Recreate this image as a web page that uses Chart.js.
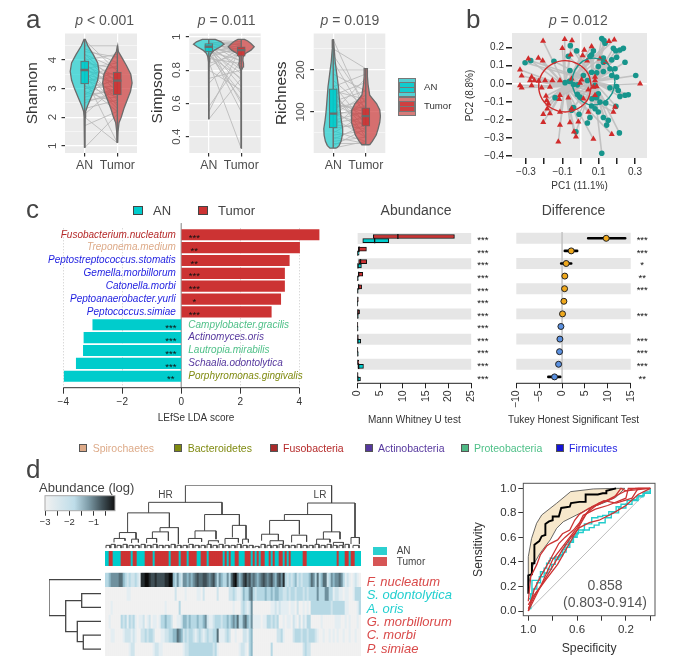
<!DOCTYPE html>
<html>
<head>
<meta charset="utf-8">
<title>Figure</title>
<script src="https://cdn.jsdelivr.net/npm/chart.js@4"></script>
<style>
html, body { margin: 0; background: #fff; }
#page { position: relative; width: 677px; height: 665px; overflow: hidden; font-family: "Liberation Sans", sans-serif; color: #444; filter: blur(0.35px); }
#page canvas { position: absolute; }
#page .t { position: absolute; white-space: nowrap; line-height: 1; }
#page .k { position: absolute; box-sizing: border-box; }
</style>
</head>
<body>
<div id="page"></div>
<script>
// ---- panel a: violins
var shannonAnY = [0.93, 1.5, 2, 2.2, 2.4, 2.7, 3.0, 3.3, 3.6, 3.9, 4.2, 4.5, 4.72];
var shannonAnW = [0.01, 0.01, 0.015, 0.03, 0.09, 0.2, 0.31, 0.4, 0.44, 0.4, 0.26, 0.1, 0.02];
var shannonTuY = [1.1, 1.5, 1.8, 2.0, 2.3, 2.6, 2.9, 3.2, 3.5, 3.8, 4.1, 4.3, 4.5];
var shannonTuW = [0.01, 0.02, 0.05, 0.12, 0.2, 0.3, 0.4, 0.45, 0.41, 0.28, 0.13, 0.03, 0.01];
var shannonBox = [[3.16, 3.65, 3.96], [2.78, 3.28, 3.58]];
var shannonPairAn = [4.7,4.5,4.4,4.3,4.2,4.2,4.1,4.0,4.0,3.9,3.9,3.8,3.8,3.7,3.7,3.6,3.6,3.5,3.5,3.4,3.4,3.3,3.3,3.2,3.1,3.1,3.0,3.0,2.9,2.8,2.8,2.7,2.6,2.5,2.3,2.1,2.0,1.7,0.93,3.4];
var shannonPairTu = [3.6,4.5,3.9,4.1,3.2,3.7,3.0,4.2,3.4,2.9,3.7,3.3,2.6,3.9,3.1,2.4,3.5,3.2,2.8,3.8,2.3,3.4,2.9,3.6,2.7,2.2,3.3,3.1,2.5,3.4,2.9,3.0,2.7,2.9,2.6,3.1,1.1,2.2,2.1,1.1];

var simpsonAnY = [0.505, 0.75, 0.85, 0.88, 0.9, 0.92, 0.94, 0.955, 0.97, 0.985];
var simpsonAnW = [0.005, 0.005, 0.01, 0.03, 0.07, 0.18, 0.36, 0.47, 0.38, 0.2];
var simpsonTuY = [0.33, 0.7, 0.8, 0.82, 0.84, 0.86, 0.88, 0.9, 0.92, 0.94, 0.96, 0.975, 0.985];
var simpsonTuW = [0.004, 0.005, 0.01, 0.06, 0.07, 0.05, 0.06, 0.13, 0.3, 0.4, 0.3, 0.2, 0.1];
var simpsonBox = [[0.91, 0.94, 0.96], [0.884, 0.92, 0.94]];
var simpsonPairAn = [.98,.97,.97,.96,.96,.96,.95,.95,.95,.94,.94,.94,.93,.93,.93,.92,.92,.91,.91,.90,.90,.89,.88,.87,.85,.84,.82,.80,.75,.72,.58,.55,.505,.95,.90,.93,.97];
var simpsonPairTu = [.97,.95,.90,.97,.92,.85,.96,.88,.80,.94,.82,.74,.96,.90,.70,.93,.78,.95,.86,.92,.66,.75,.94,.84,.33,.90,.93,.68,.80,.92,.86,.94,.75,.60,.62,.55,.95];

var richnessAnY = [14, 20, 30, 45, 60, 80, 100, 130, 160, 190, 220, 250, 272];
var richnessAnW = [0.1, 0.18, 0.24, 0.28, 0.29, 0.25, 0.22, 0.19, 0.16, 0.11, 0.06, 0.03, 0.01];
var richnessTuY = [22, 30, 45, 60, 75, 90, 105, 120, 140, 165, 185, 203];
var richnessTuW = [0.12, 0.2, 0.32, 0.38, 0.43, 0.45, 0.43, 0.33, 0.12, 0.07, 0.05, 0.05];
var richnessBox = [[62, 96, 155], [66, 90, 110]];
var richnessPairAn = [272,250,235,220,200,190,175,165,160,150,145,140,130,125,120,115,110,105,100,95,95,90,85,80,75,70,65,60,55,50,45,40,35,30,25,20,14,150,120,100];
var richnessPairTu = [100,203,120,90,200,150,110,70,190,130,60,170,90,150,80,110,125,50,95,140,70,115,40,100,85,60,130,75,30,95,55,25,70,40,25,60,30,40,100,180];

// ---- panel b: PCoA
var pcAnX = [.117,.129,.135,-.056,.181,.194,.217,.236,-.021,.071,.061,-.067,.052,.126,.172,.199,.245,-.146,-.305,-.274,.126,.098,.162,-.058,.19,.061,.089,.126,.016,.172,.199,.304,.038,-.061,-.085,-.039,-.017,.08,.162,.199,.208,.098,.08,.245,.263,.217,-.017,-.003,.063,.089,-.14,.107,.139,.195,.061,.08,.098,-.039,-.049,-.008,.052,.126,.153,.144,.038,-.025,.214,.117];
var pcAnY = [.25,.239,.224,.211,.196,.183,.187,.196,.182,.182,.16,.152,.152,.143,.132,.147,.119,.125,.116,.128,.119,.095,.083,.073,.083,.064,.061,.068,.046,.046,.037,.046,.018,.013,.006,-.004,-.006,-.009,-.022,-.015,-.037,-.055,-.073,-.064,-.061,-.07,-.059,-.073,-.083,-.077,-.077,-.101,-.106,-.125,-.123,-.138,-.156,-.132,-.147,-.169,-.187,-.187,-.202,-.229,-.217,-.266,-.272,-.385];
var pcTuX = [-.206,-.087,-.047,.186,.157,-.1,.061,.021,-.054,.012,.036,-.287,-.232,-.208,.107,.14,-.333,-.324,-.269,-.278,-.254,-.23,-.269,-.333,-.324,-.195,-.155,-.113,-.049,.006,.08,.08,.328,.089,-.214,-.168,-.003,-.113,-.19,-.186,-.177,-.117,-.067,.016,-.183,-.168,-.205,-.113,-.049,.043,.19,.181,-.205,-.113,-.058,-.012,-.036,-.025,-.122,.071,.172,.071,.043,.08];
var pcTuY = [.237,.246,.239,.244,.235,.196,.206,.187,.16,.156,.128,.138,.143,.128,.138,.119,.077,.044,.037,.018,.018,.015,-.009,-.009,-.022,.018,.018,.018,.028,.022,.037,.018,0,-.015,-.022,-.018,.004,-.064,-.068,-.092,-.11,-.086,-.077,-.083,-.138,-.165,-.169,-.156,-.138,-.156,-.128,-.156,-.213,-.229,-.215,-.211,-.266,-.294,-.321,-.306,-.279,-.018,-.033,-.064];
var centroidAn = [.072, .012];
var centroidTu = [-.085, -.014];
var ringAnX = [.19,.174,.131,.072,.013,-.03,-.046,-.03,.013,.072,.131,.174,.19];
var ringAnY = [.012,.077,.125,.142,.125,.077,.012,-.053,-.101,-.118,-.101,-.053,.012];
var ringTuX = [.06,.041,-.013,-.085,-.157,-.211,-.23,-.211,-.157,-.085,-.013,.041,.06];
var ringTuY = [-.014,.057,.109,.128,.109,.057,-.014,-.085,-.137,-.156,-.137,-.085,-.014];

// ---- panel c
var speciesNames = ['Fusobacterium.nucleatum','Treponema.medium','Peptostreptococcus.stomatis','Gemella.morbillorum','Catonella.morbi','Peptoanaerobacter.yurli','Peptococcus.simiae','Campylobacter.gracilis','Actinomyces.oris','Lautropia.mirabilis','Schaalia.odontolytica','Porphyromonas.gingivalis'];
var speciesPhylum = ['Fusobacteria','Spirochaetes','Firmicutes','Firmicutes','Firmicutes','Firmicutes','Firmicutes','Proteobacteria','Actinobacteria','Proteobacteria','Actinobacteria','Bacteroidetes'];
var ldaScores = [4.67, 4.01, 3.66, 3.5, 3.5, 3.37, 3.05, -3.0, -3.3, -3.32, -3.56, -3.97];
var ldaStars = ['***','**','**','***','***','*','***','***','***','***','***','**'];
var abundTuLo = [3.5,.2,.3,.2,.2,0,.05,0,0,0,0,0];
var abundTuMed = [8.9,.4,.7,.3,.3,.05,.1,.02,.05,.02,.05,.03];
var abundTuHi = [21.3,2.0,2.05,1.2,.95,.2,.5,.1,.2,.1,.3,.15];
var abundAnLo = [1.2,0,0,0,0,0,0,0,.05,0,.1,.05];
var abundAnMed = [3.8,.05,.1,.05,.05,.02,.05,.03,.1,.05,.3,.1];
var abundAnHi = [6.9,.4,.9,.2,.15,.1,.2,.15,.75,.2,1.35,.7];
var abundStars = ['***','***','***','***','***','***','***','***','***','***','***','***'];
var diffMean = [9.65, 2.0, 0.9, 0.6, 0.55, 0.4, 0.1, -0.25, -0.47, -0.55, -0.76, -1.64];
var diffLo = [5.7, 0.6, -0.2, 0.4, 0.35, 0.2, -0.1, -0.45, -0.7, -0.8, -1.0, -3.0];
var diffHi = [13.8, 3.3, 2.0, 0.8, 0.75, 0.6, 0.3, -0.05, -0.25, -0.3, -0.5, -0.4];
var diffStars = ['***','***','*','**','***','','***','','***','***','***','**'];
var phylumNames = ['Spirochaetes','Bacteroidetes','Fusobacteria','Actinobacteria','Proteobacteria','Firmicutes'];

// ---- panel d: heatmap, level 0 (-3 or less) to 9 (0)
var sampleIsTumor = [
  0,0,1,1,0,0,0,0,1,1,1,1,1,0,1,1,
  0,0,0,0,1,1,1,1,0,1,1,1,1,1,1,1,
  0,1,1,1,1,0,1,1,1,0,1,1,1,1,0,0,
  1,1,1,0,1,1,1,1,1,1,1,0,1,0,1,0,
  0,1,1,0,0,0,1,1,1,0,1,0,1,0,1,1,
  0,0,1,0,1,0,0,1,1,0,1,0,1,0,0,0,
  0,0,0,1,1,0,0,0,0,0,0,0,0,0,0,0,
  0,0,0,0,1,0,0,0,1,1,0,1,1,0,0,0];
var heatRowNames = ['F. nucleatum','S. odontolytica','A. oris','G. morbillorum','C. morbi','P. simiae'];
var heatNucleatum = [
  3,3,4,5,5,5,5,6,6,4,3,2,3,2,2,3,
  2,1,8,8,9,9,8,7,7,8,7,7,7,7,8,8,
  9,9,4,3,5,3,2,5,5,4,5,4,5,6,7,6,
  6,7,7,6,5,6,7,5,3,5,4,3,3,5,3,6,
  8,9,6,4,5,7,8,6,7,5,6,5,4,5,6,7,
  6,5,6,7,5,4,6,7,5,8,3,2,3,2,3,4,
  2,3,2,3,3,3,4,6,5,3,6,3,4,6,6,2,
  3,5,4,5,5,6,5,3,1,2,1,0,1,2,1,0];
var heatOdontolytica = [
  0,0,0,0,0,0,0,0,0,0,0,1,1,0,0,0,
  0,0,0,0,0,0,0,0,0,0,0,0,0,0,0,0,
  0,0,0,2,0,0,0,0,1,0,0,0,0,0,1,1,
  0,2,0,0,0,0,0,0,2,0,0,0,0,0,2,2,
  3,2,1,1,2,4,3,3,5,6,3,2,3,3,3,3,
  4,3,3,4,3,4,4,3,3,2,2,3,2,3,3,2,
  3,3,3,2,3,2,3,3,3,3,5,3,3,3,5,5,
  3,3,1,2,2,1,1,0,1,1,0,0,1,3,3,3];
var heatOris = [
  0,0,0,1,0,0,0,0,0,0,0,0,0,0,0,0,
  0,0,0,0,0,0,0,0,0,0,0,0,0,0,1,0,
  0,0,0,0,0,3,0,0,0,0,0,0,0,0,0,0,
  0,0,0,0,0,0,0,0,0,0,0,0,0,0,0,0,
  1,0,0,0,2,3,2,1,2,5,0,0,0,0,0,0,
  0,0,0,1,1,2,1,2,1,1,1,1,0,1,1,0,
  2,0,0,1,0,1,0,3,3,3,3,3,3,3,3,3,
  3,2,3,3,3,3,3,3,1,1,0,0,0,0,1,3];
var heatMorbillorum = [
  0,0,1,0,0,0,0,0,3,2,3,1,3,2,3,1,
  0,1,1,2,0,1,2,0,1,1,0,1,3,3,4,3,
  3,2,0,0,1,1,2,4,4,3,4,3,3,3,4,3,
  3,4,5,2,1,1,2,3,3,3,2,3,3,4,3,4,
  5,4,6,3,3,5,6,4,3,5,1,1,1,1,0,1,
  1,3,3,2,3,2,3,0,0,1,0,1,1,0,2,1,
  0,2,0,2,1,3,3,0,0,0,0,0,1,0,0,0,
  0,0,0,1,1,1,0,0,1,0,1,0,0,0,1,0];
var heatMorbi = [
  0,0,0,1,1,0,0,0,0,1,2,2,2,1,2,1,
  0,0,2,2,3,2,3,3,2,0,0,0,1,1,2,2,
  3,3,4,4,6,5,4,2,3,2,3,3,2,1,2,3,
  2,1,2,3,2,2,3,3,6,1,1,1,2,3,2,0,
  0,1,0,0,0,2,2,1,3,4,0,0,0,0,0,0,
  0,0,0,0,0,0,2,2,3,1,0,0,0,0,2,3,
  3,3,2,3,3,2,3,3,3,2,1,0,0,1,0,0,
  1,0,1,0,1,0,0,1,0,0,1,0,0,1,0,0];
var heatSimiae = [
  0,0,0,0,0,0,0,0,0,0,0,0,1,2,2,0,
  0,0,0,0,0,0,0,0,1,2,2,1,1,0,0,0,
  0,0,0,0,0,0,0,1,2,2,3,3,3,3,3,3,
  3,3,3,3,3,3,2,3,1,0,0,0,0,0,0,0,
  0,0,0,1,2,2,1,0,3,4,0,0,0,0,0,0,
  0,0,0,3,0,0,0,0,0,0,0,0,0,0,0,0,
  0,0,0,2,3,2,2,0,0,0,0,0,0,0,0,0,
  0,0,0,0,0,0,0,0,0,0,0,0,0,0,0,0];
// top dendrogram merges: left x, right x, height, left child height, right child height
var colMergeL = [40.2,21.8,101.3,11.3,49.8,89.7,82.3,109.2,123,7.2,27.5,23.7,45,63.7,4.5,13.3,20.8,41.7,51.7,60,68.8,78.3,93.3,82.5,105.8,114.2,
  0.5,3,6,9,12,15,18,21,24,27,30,33,36,39,42,45,48,51,54,57,60,63,66,69,72,75,78,81,84,87,90,93,96,99,102,105,108,111,114,117,120,124];
var colMergeR = [113.3,58.5,125,32.2,67.2,113.3,97.2,117.5,127.2,15.5,36.7,31.7,55.5,70.5,10,16.7,25.8,48.3,56.7,66.7,71.7,86.7,100.8,89.2,112.5,119.2,
  2.5,5,8,11,14,17,20,23,26,29,32,35,38,41,44,47,50,53,56,59,62,65,68,71,74,77,80,83,86,89,92,95,98,101,104,107,110,113,116,119,122,127];
var colMergeTop = [64,46.7,46,36,34.3,34.3,28.3,16.7,11,16,21,16.7,17.7,23.3,10,9.3,10,10,7.7,10,9.3,14.3,13.3,7.7,9.3,6,
  3,4,3,4,3,3,4,3,4,3,3,4,3,3,4,3,3,4,3,4,3,3,4,3,3,2,4,3,3,4,3,3,4,3,3,4,3,4,3,3,4,3];
var colMergeLow = [46.7,36,34.3,16,17.7,28.3,14.3,9.3,4.3,10,16.7,10,10,11,6,5.3,5.3,5.3,4.3,4.3,4.3,7.7,6,3.3,4.3,3.3,
  0,0,0,0,0,0,0,0,0,0,0,0,0,0,0,0,0,0,0,0,0,0,0,0,0,0,0,0,0,0,0,0,0,0,0,0,0,0,0,0,0,0];
var colMergeHigh = [46,34.3,11,21,23.3,16.7,14.3,9.3,4.3,9.3,4.3,7.7,9.3,9.3,7.7,6,6,6.7,6,6,6,7.7,6.7,4.3,6,3.3,
  0,0,0,0,0,0,0,0,0,0,0,0,0,0,0,0,0,0,0,0,0,0,0,0,0,0,0,0,0,0,0,0,0,0,0,0,0,0,0,0,0,0];
// row dendrogram merges: upper row, lower row, distance, upper child distance, lower child distance
var rowMergeA = [0.5, 2.01, 1.5, 3.5, 4.5];
var rowMergeB = [3.09, 4.24, 2.5, 4.96, 5.5];
var rowMergeD = [52, 35.3, 19.3, 23.7, 17.7];
var rowMergeChildA = [0, 19.3, 0, 0, 0];
var rowMergeChildB = [35.3, 23.7, 0, 17.7, 0];

// ---- panel d: ROC
var rocSpec = [1,1,.97,.97,.95,.95,.91,.89,.86,.86,.83,.80,.80,.75,.73,.66,.65,.58,.53,.53,.43,.39,.36,.36,.28];
var rocSens = [.14,.29,.30,.39,.39,.54,.57,.61,.62,.71,.73,.74,.77,.77,.84,.85,.88,.89,.89,.95,.95,.96,.96,.98,1];
var ciSpec = [1,.973,.932,.89,.768,.653,.467,.276,.21,.276,.358,.467,.604,.713,.768,.82,.904,.96,1,1];
var ciSens = [.443,.592,.715,.783,.878,.973,.995,1,1,.932,.891,.85,.783,.728,.674,.58,.47,.375,.21,.443];
var cyan1Spec = [1,.98,.97,.95,.92,.91,.90,.87,.85,.83,.82,.78,.74,.72,.70,.67,.64,.61,.59,.54,.48,.43,.39,.34,.28,.24,.19,.15,.11,.06,0];
var cyan1Sens = [.02,.14,.25,.25,.25,.28,.32,.35,.39,.41,.43,.44,.46,.50,.54,.57,.61,.63,.66,.71,.76,.77,.78,.81,.85,.87,.90,.91,.93,.96,1];
var cyan2Spec = [1,.98,.96,.93,.9,.87,.84,.81,.78,.75,.72,.69,.66,.63,.6,.55,.5,.46,.42,.37,.32,.26,.2,.15,.1,.05,0];
var cyan2Sens = [.1,.14,.18,.23,.28,.31,.34,.38,.42,.45,.48,.52,.56,.6,.64,.66,.68,.7,.72,.76,.8,.84,.87,.9,.94,.97,1];
var red1Spec = [1,.98,.93,.9,.85,.82,.76,.72,.66,.62,.58,.5,.42,.3,.2,.12,0];
var red1Sens = [.08,.28,.38,.46,.53,.55,.58,.63,.66,.74,.79,.84,.87,.93,.98,1,1];
var red2Spec = [1,.95,.9,.82,.75,.7,.63,.58,.55,.45,.35,.2,.18,0];
var red2Sens = [0,.18,.28,.42,.55,.6,.66,.72,.78,.83,.86,.92,1,1];
var red3Spec = [1,.9,.82,.72,.65,.58,.5,.42,.3,.2,.1,0];
var red3Sens = [0,.2,.33,.5,.6,.68,.72,.74,.8,.86,.95,1];
var red4Spec = [1,.94,.86,.76,.68,.6,.52,.42,.3,.24,.2,0];
var red4Sens = [.02,.14,.25,.38,.52,.66,.8,.88,.92,1,.98,1];
var red5Spec = [1,.96,.9,.8,.7,.6,.55,.48,.38,.28,.15,.1,0];
var red5Sens = [.05,.12,.2,.42,.55,.68,.76,.85,.9,.88,.92,1,1];

// colours
var colAn = '#00CCCC', colTu = '#CC3333';
var heatPalette = ['#F1F1F1','#E4EEF2','#CFE4EC','#B6D8E4','#8FB9C8','#6F919E','#566F79','#3F4F56','#262D30','#0B0B0B'];
var phylumColors = { Spirochaetes: '#DDAA88', Bacteroidetes: '#7F8A10', Fusobacteria: '#A82A2A', Actinobacteria: '#56389E', Proteobacteria: '#4FB985', Firmicutes: '#1414D8' };
var phylumTextColors = { Spirochaetes: '#DDAA88', Bacteroidetes: '#7F8A10', Fusobacteria: '#B52A2A', Actinobacteria: '#56389E', Proteobacteria: '#4FC088', Firmicutes: '#1E1EE0' };
var page = document.getElementById('page');
var FONT = '"Liberation Sans", sans-serif';

Chart.defaults.animation = false;
Chart.defaults.events = [];
Chart.defaults.font.family = FONT;
Chart.defaults.color = '#444';
Chart.defaults.plugins.legend.display = false;
Chart.defaults.plugins.tooltip.enabled = false;

// fill, frame and cut-short axis line
Chart.register({
    id: 'plotStyle',
    beforeDraw: function(chart, args, opts) {
        if (opts.fill) {
            var a = chart.chartArea;
            chart.ctx.fillStyle = opts.fill;
            chart.ctx.fillRect(a.left, a.top, a.width, a.height);
        }
    },
    afterDraw: function(chart, args, opts) {
        var a = chart.chartArea, ctx = chart.ctx;
        if (opts.frame) {
            ctx.strokeStyle = opts.frame;
            ctx.lineWidth = 1;
            ctx.strokeRect(a.left, a.top, a.width, a.height);
        }
        if (opts.axisLine) {
            var t = chart.scales.x.ticks;
            ctx.strokeStyle = opts.axisLine;
            ctx.lineWidth = 1;
            ctx.beginPath();
            ctx.moveTo(chart.scales.x.getPixelForValue(t[0].value), a.bottom);
            ctx.lineTo(chart.scales.x.getPixelForValue(t[t.length - 1].value), a.bottom);
            ctx.stroke();
        }
    }
});

function addText(html, x, y, o) {
    o = o || {};
    var el = document.createElement('div');
    el.className = 't';
    el.innerHTML = html;
    el.style.left = x + 'px';
    el.style.top = y + 'px';
    el.style.fontSize = (o.size || 10) + 'px';
    el.style.color = o.color || '#444';
    if (o.italic) el.style.fontStyle = 'italic';
    var dx = o.align === 'center' ? '-50%' : (o.align === 'right' ? '-100%' : '0');
    el.style.transform = 'translate(' + dx + ',-50%)';
    page.appendChild(el);
}

function addKey(x, y, w, h, color, border) {
    var el = document.createElement('div');
    el.className = 'k';
    el.style.cssText = 'left:' + x + 'px;top:' + y + 'px;width:' + w + 'px;height:' + h + 'px;background:' + color + ';border:' + (border || 'none');
    page.appendChild(el);
    return el;
}

// places a canvas so the plot area lands on plot {l,t,r,b}, margin is room around it
function mount(plot, margin, config) {
    var cl = Math.floor(plot.l - margin.l), ct = Math.floor(plot.t - margin.t);
    var w = Math.ceil(plot.r + margin.r) - cl, h = Math.ceil(plot.b + margin.b) - ct;
    var ml = plot.l - cl, mt = plot.t - ct, mr = w - (plot.r - cl), mb = h - (plot.b - ct);
    var cv = document.createElement('canvas');
    cv.width = w; cv.height = h;
    cv.style.left = cl + 'px'; cv.style.top = ct + 'px';
    cv.style.width = w + 'px'; cv.style.height = h + 'px';
    page.appendChild(cv);
    var o = config.options;
    o.responsive = false;
    o.devicePixelRatio = 1;
    var sx = o.scales.x, sy = o.scales.y;
    if (sx.display !== false) sx.afterFit = function(s) { s.height = mb; };
    if (sy.display !== false) sy.afterFit = function(s) { s.width = ml; };
    o.layout = { padding: { left: sy.display === false ? ml : 0, right: mr, top: mt, bottom: sx.display === false ? mb : 0 } };
    return new Chart(cv.getContext('2d'), config);
}

function tickSet(vals) {
    return function(s) { s.ticks = vals.map(function(v) { return { value: v }; }); };
}
function minus(v) { return String(v).replace('-', '\u2212'); }
function stack(list) {
    list.forEach(function(d, i) { d.order = list.length - i; });
    return list;
}
function xy(xs, ys) {
    return xs.map(function(x, i) { return { x: x, y: ys[i] }; });
}
function lineSet(data, color, width, extra) {
    return Object.assign({ type: 'scatter', data: data, showLine: true, borderColor: color, borderWidth: width, pointRadius: 0, fill: false }, extra || {});
}
function outline(ys, ws, c) {
    var right = ys.map(function(y, i) { return { x: c + ws[i], y: y }; });
    var left = ys.map(function(y, i) { return { x: c - ws[i], y: y }; }).reverse();
    return right.concat(left, [right[0]]);
}
function pairPath(a, b) {
    var out = [];
    a.forEach(function(v, i) {
        out.push({ x: 1, y: v }, { x: 2, y: b[i] }, { x: NaN, y: NaN });
    });
    return out;
}

function violinPanel(plot, leftRoom, range, major, minor, name, tickGap, d) {
    var ticks = major.concat(minor);
    var edge = function(y) { return [y[0], y[y.length - 1]]; };
    var sets = [
        lineSet(pairPath(d.pairA, d.pairB), 'rgba(185,185,185,0.85)', 1),
        lineSet(outline(d.aY, d.aW, 1), '#6B6B6B', 1.3, { fill: 'shape', backgroundColor: 'rgba(0,204,204,0.62)' }),
        lineSet(outline(d.tY, d.tW, 2), '#6B6B6B', 1.3, { fill: 'shape', backgroundColor: 'rgba(204,51,51,0.68)' }),
        lineSet(xy([1, 1], edge(d.aY)), '#6B6B6B', 1.4),
        lineSet(xy([2, 2], edge(d.tY)), '#6B6B6B', 1.4),
        { type: 'bar', data: [{ x: 1, y: [d.box[0][0], d.box[0][2]] }], backgroundColor: 'rgba(0,204,204,0.9)', borderColor: '#6B6B6B', borderWidth: 1, borderSkipped: false, barThickness: 8, grouped: false },
        { type: 'bar', data: [{ x: 2, y: [d.box[1][0], d.box[1][2]] }], backgroundColor: 'rgba(204,51,51,0.9)', borderColor: '#6B6B6B', borderWidth: 1, borderSkipped: false, barThickness: 8, grouped: false },
        { type: 'scatter', data: [{ x: 1, y: d.box[0][1] }, { x: 2, y: d.box[1][1] }], pointStyle: 'line', pointRadius: 4, borderColor: '#6B6B6B', pointBorderWidth: 2.4 }
    ];
    mount(plot, { l: leftRoom, t: 16, r: 14, b: 20 }, {
        type: 'scatter',
        data: { datasets: stack(sets) },
        options: {
            plugins: { plotStyle: { fill: '#EBEBEB' } },
            scales: {
                x: {
                    type: 'linear', min: 0.4, max: 2.6, offset: false,
                    afterBuildTicks: tickSet([1, 2]),
                    grid: { color: '#fff', lineWidth: 1.2, tickColor: '#333', tickLength: 3.5, offset: false },
                    border: { display: false },
                    ticks: { autoSkip: false, padding: 2, color: '#4D4D4D', font: { size: 12.3 }, maxRotation: 0,
                        callback: function(v) { return v === 1 ? 'AN' : 'Tumor'; } }
                },
                y: {
                    type: 'linear', min: range[0], max: range[1], offset: false,
                    afterBuildTicks: tickSet(ticks),
                    title: { display: true, text: name, padding: 0, color: '#333', font: { size: 15.5 } },
                    grid: {
                        color: '#fff', offset: false, tickLength: 3.5,
                        lineWidth: function(c) { return major.indexOf(c.tick.value) >= 0 ? 1.2 : 0.5; },
                        tickColor: function(c) { return major.indexOf(c.tick.value) >= 0 ? '#333' : 'rgba(0,0,0,0)'; }
                    },
                    border: { display: false },
                    ticks: { autoSkip: false, minRotation: 90, maxRotation: 90, crossAlign: 'center', padding: tickGap, color: '#4D4D4D', font: { size: 11.5 },
                        callback: function(v) { return major.indexOf(v) >= 0 ? String(v) : ''; } }
                }
            }
        }
    });
}

// ---- panel a
addText('a', 26, 19, { size: 26, color: '#444' });
violinPanel({ l: 65, t: 33.5, r: 137, b: 153 }, 41.6, [0.744, 4.93], [1, 2, 3, 4], [1.5, 2.5, 3.5, 4.5], 'Shannon', 5,
    { aY: shannonAnY, aW: shannonAnW, tY: shannonTuY, tW: shannonTuW, box: shannonBox, pairA: shannonPairAn, pairB: shannonPairTu });
violinPanel({ l: 189.3, t: 33.5, r: 260.7, b: 153 }, 40.9, [0.302, 1.02], [0.4, 0.6, 0.8, 1.0], [0.5, 0.7, 0.9], 'Simpson', 1.2,
    { aY: simpsonAnY, aW: simpsonAnW, tY: simpsonTuY, tW: simpsonTuW, box: simpsonBox, pairA: simpsonPairAn, pairB: simpsonPairTu });
violinPanel({ l: 313.7, t: 33.5, r: 385.3, b: 153 }, 41, [2.4, 286.5], [100, 200], [50, 150, 250], 'Richness', 0,
    { aY: richnessAnY, aW: richnessAnW, tY: richnessTuY, tW: richnessTuW, box: richnessBox, pairA: richnessPairAn, pairB: richnessPairTu });
addText('<i>p</i> &lt; 0.001', 104.7, 19.5, { size: 14, color: '#555', align: 'center' });
addText('<i>p</i> = 0.011', 226.7, 19.5, { size: 14, color: '#555', align: 'center' });
addText('<i>p</i> = 0.019', 350, 19.5, { size: 14, color: '#555', align: 'center' });

// legend keys of panel a
[[77.5, '#55CFD2', '#12CCCE', 'AN'], [96.5, '#D67A78', '#CF4040', 'Tumor']].forEach(function(k) {
    addKey(398, k[0], 18, 19, k[1], '1px solid #777');
    addKey(399, k[0] + 4, 16, 11, k[2], '1px solid #777');
    addKey(399, k[0] + 9, 16, 1.5, '#777');
    addText(k[3], 424, k[0] + 9.8, { size: 9.6, color: '#333' });
});

// ---- panel b
function spokes(xs, ys, c) {
    var out = [];
    xs.forEach(function(x, i) { out.push({ x: c[0], y: c[1] }, { x: x, y: ys[i] }, { x: NaN, y: NaN }); });
    return out;
}
addText('b', 466, 19, { size: 26, color: '#444' });
addText('<i>p</i> = 0.012', 578.3, 20, { size: 14, color: '#555', align: 'center' });
mount({ l: 512, t: 33, r: 647, b: 158 }, { l: 47.3, t: 12, r: 14, b: 34 }, {
    type: 'scatter',
    data: { datasets: stack([
        lineSet(spokes(pcTuX, pcTuY, centroidTu), 'rgba(190,190,190,0.9)', 1.6),
        lineSet(spokes(pcAnX, pcAnY, centroidAn), 'rgba(190,190,190,0.9)', 1.6),
        { data: xy(pcAnX, pcAnY), pointStyle: 'circle', pointRadius: 2.8, backgroundColor: '#17958C', borderWidth: 0 },
        { data: xy(pcTuX, pcTuY), pointStyle: 'triangle', pointRadius: 3.5, backgroundColor: '#D02B2B', borderWidth: 0 },
        lineSet(xy(ringAnX, ringAnY), '#17958C', 1.4, { tension: 0.4 }),
        lineSet(xy(ringTuX, ringTuY), '#D02B2B', 1.4, { tension: 0.4 })
    ]) },
    options: {
        plugins: { plotStyle: { fill: '#E8E8E8' } },
        scales: {
            x: {
                type: 'linear', min: -0.377, max: 0.366,
                afterBuildTicks: tickSet([-0.3, -0.2, -0.1, 0, 0.1, 0.2, 0.3]),
                title: { display: true, text: 'PC1 (11.1%)', padding: 0, color: '#333', font: { size: 10 } },
                grid: { tickColor: '#222', tickLength: 6, lineWidth: 1.5, color: function(c) { return c.tick.value === 0 ? '#fff' : 'rgba(0,0,0,0)'; } },
                border: { display: false },
                ticks: { autoSkip: false, padding: 2, maxRotation: 0, color: '#333', font: { size: 10 },
                    callback: function(v) { return [-0.3, -0.1, 0.1, 0.3].indexOf(v) >= 0 ? minus(v.toFixed(1)) : ''; } }
            },
            y: {
                type: 'linear', min: -0.411, max: 0.281,
                afterBuildTicks: tickSet([-0.4, -0.3, -0.2, -0.1, 0, 0.1, 0.2]),
                title: { display: true, text: 'PC2 (8.8%)', padding: 0, color: '#333', font: { size: 10 } },
                grid: { tickColor: '#222', tickLength: 6, lineWidth: 1.5, color: function(c) { return c.tick.value === 0 ? '#fff' : 'rgba(0,0,0,0)'; } },
                border: { display: false },
                ticks: { autoSkip: false, padding: 2, color: '#333', font: { size: 10 },
                    callback: function(v) { return minus(v.toFixed(1)); } }
            }
        }
    }
});

// ---- panel c
addText('c', 26, 209, { size: 26, color: '#444' });
addKey(133, 206, 10, 9, colAn, '1px solid #444');
addText('AN', 153, 210, { size: 13, color: '#444' });
addKey(198, 206, 10, 9, colTu, '1px solid #444');
addText('Tumor', 218, 210, { size: 13, color: '#444' });
addText('Abundance', 416, 210, { size: 14, align: 'center' });
addText('Difference', 573.5, 210, { size: 14, align: 'center' });

var ldaRows = speciesNames.map(function(n, i) { return i; });
var ldaPlugin = {
    id: 'ldaText',
    afterDatasetsDraw: function(chart) {
        var ctx = chart.ctx, sx = chart.scales.x, sy = chart.scales.y;
        ctx.save();
        ctx.textBaseline = 'middle';
        ldaRows.forEach(function(i) {
            var y = sy.getPixelForValue(i), up = ldaScores[i] > 0;
            ctx.font = 'italic 10px ' + FONT;
            ctx.fillStyle = phylumTextColors[speciesPhylum[i]];
            ctx.textAlign = up ? 'right' : 'left';
            ctx.fillText(speciesNames[i], up ? sx.getPixelForValue(0) - 5.5 : sx.getPixelForValue(0) + 7, y);
            ctx.font = '9.5px ' + FONT;
            ctx.fillStyle = '#111';
            ctx.textAlign = 'center';
            ctx.fillText(ldaStars[i], up ? sx.getPixelForValue(0) + 13 : sx.getPixelForValue(0) - 10.5, y + 3.5);
        });
        ctx.restore();
    }
};
mount({ l: 63.3, t: 228.3, r: 328.8, b: 387.7 }, { l: 30, t: 8, r: 2, b: 36.3 }, {
    type: 'scatter',
    data: { datasets: stack([
        lineSet(xy([0, 0], [-0.9, 11.89]), '#A9A9A9', 1),
        { type: 'bar', indexAxis: 'y', grouped: false, barThickness: 10.5, data: xy(ldaScores, ldaRows),
          backgroundColor: ldaScores.map(function(v) { return v > 0 ? colTu : colAn; }), borderWidth: 0 }
    ]) },
    plugins: [ldaPlugin],
    options: {
        plugins: { plotStyle: { axisLine: '#333' } },
        clip: false,
        scales: {
            x: {
                type: 'linear', min: -4, max: 5, offset: false,
                afterBuildTicks: tickSet([-4, -2, 0, 2, 4]),
                title: { display: true, text: 'LEfSe LDA score', padding: 0, color: '#333', font: { size: 10 } },
                grid: { offset: false, tickColor: '#333', tickLength: 6, tickBorderDash: [], color: function(c) { return c.tick.value === 0 ? 'rgba(0,0,0,0)' : '#C9C9C9'; } },
                border: { display: false, dash: [1, 2] },
                ticks: { autoSkip: false, padding: 3, maxRotation: 0, color: '#333', font: { size: 10 }, callback: minus }
            },
            y: { type: 'linear', display: false, reverse: true, min: -0.5, max: 11.89, offset: false, grid: { offset: false } }
        }
    }
});

function rowBands(lo, hi) {
    var out = [];
    [0, 2, 4, 6, 8, 10].forEach(function(r) { out.push({ x: [lo, hi], y: r }); });
    return { type: 'bar', indexAxis: 'y', grouped: false, barThickness: 10.3, data: out, backgroundColor: '#E6E6E6', borderWidth: 0 };
}
function starPlugin(stars, dx) {
    return {
        id: 'rowStars',
        afterDatasetsDraw: function(chart) {
            var ctx = chart.ctx, sy = chart.scales.y;
            ctx.save();
            ctx.font = '9.5px ' + FONT;
            ctx.fillStyle = '#111';
            ctx.textAlign = 'center';
            ctx.textBaseline = 'middle';
            stars.forEach(function(s, i) { ctx.fillText(s, chart.chartArea.right + dx, sy.getPixelForValue(i) + 2); });
            ctx.restore();
        }
    };
}
function rowAxisX(min, max, tickVals, title) {
    return {
        type: 'linear', min: min, max: max, offset: false,
        afterBuildTicks: tickSet(tickVals),
        title: { display: !!title, text: title, padding: 0, color: '#333', font: { size: 10 } },
        grid: { offset: false, drawOnChartArea: false, tickColor: '#222', tickLength: 5 },
        border: { display: false },
        ticks: { autoSkip: false, padding: 2, minRotation: 90, maxRotation: 90, color: '#333', font: { size: 10.5 }, callback: minus }
    };
}
var rowAxisY = { type: 'linear', display: false, reverse: true, min: -0.5, max: 11.51, offset: false, grid: { offset: false } };

function floatBars(lo, hi, shift, color) {
    return { type: 'bar', indexAxis: 'y', grouped: false, barThickness: 4, borderSkipped: false, borderWidth: 1, borderColor: '#111', backgroundColor: color,
        data: lo.map(function(v, i) { return { x: [v, hi[i]], y: i + shift }; }) };
}
function medianMarks(vals, shift) {
    return { data: vals.map(function(v, i) { return { x: v, y: i + shift }; }), pointStyle: 'line', rotation: 90, pointRadius: 2.6, pointBorderColor: '#111', pointBorderWidth: 1.3, borderColor: '#111' };
}
mount({ l: 357.3, t: 229.3, r: 471.3, b: 383.3 }, { l: 8, t: 2, r: 26, b: 42.7 }, {
    type: 'scatter',
    data: { datasets: stack([
        rowBands(0, 25),
        floatBars(abundTuLo, abundTuHi, -0.165, colTu),
        floatBars(abundAnLo, abundAnHi, 0.165, colAn),
        medianMarks(abundTuMed, -0.165),
        medianMarks(abundAnMed, 0.165)
    ]) },
    plugins: [starPlugin(abundStars, 11.5)],
    options: {
        plugins: { plotStyle: { axisLine: '#222' } },
        scales: { x: rowAxisX(0, 25, [0, 5, 10, 15, 20, 25], 'Mann Whitney U test'), y: rowAxisY }
    }
});

function ciPath() {
    var out = [];
    diffLo.forEach(function(v, i) { out.push({ x: v, y: i }, { x: diffHi[i], y: i }, { x: NaN, y: NaN }); });
    return out;
}
mount({ l: 516.3, t: 229.3, r: 630.7, b: 383.3 }, { l: 16, t: 2, r: 26, b: 42.7 }, {
    type: 'scatter',
    data: { datasets: stack([
        rowBands(-10, 15),
        lineSet(xy([0, 0], [-0.5, 11.51]), '#BDBDBD', 1.3),
        lineSet(ciPath(), '#000', 2.6, { borderCapStyle: 'round' }),
        { data: xy(diffMean, ldaRows), pointStyle: 'circle', pointRadius: 3, pointBorderWidth: 1, pointBorderColor: '#222',
          pointBackgroundColor: diffMean.map(function(v) { return v > 0 ? '#EFA81C' : '#5A90E0'; }) }
    ]) },
    plugins: [starPlugin(diffStars, 11.5)],
    options: {
        plugins: { plotStyle: { axisLine: '#222' } },
        scales: { x: rowAxisX(-10, 15, [-10, -5, 0, 5, 10, 15], ''), y: rowAxisY }
    }
});
// wider than its plot, so it sits outside the scale
addText('Tukey Honest Significant Test', 573.5, 420, { size: 10, color: '#333', align: 'center' });

// phylum legend
[[75, 92.7], [170, 187.7], [266, 283], [361, 378], [456.7, 474], [552, 569]].forEach(function(p, i) {
    var n = phylumNames[i];
    addKey(p[0] + 4, 444, 8, 8, phylumColors[n], '1px solid #555');
    addText(n, p[1], 448.3, { size: 10.5, color: phylumTextColors[n] });
});

// ---- panel d
addText('d', 26, 469, { size: 26, color: '#444' });
addText('Abundance (log)', 86.7, 486.7, { size: 13, align: 'center' });
mount({ l: 45, t: 495.7, r: 115, b: 510.7 }, { l: 8, t: 1, r: 4, b: 18 }, {
    type: 'scatter',
    data: { datasets: [{
        type: 'bar', indexAxis: 'y', grouped: false, barThickness: 15,
        data: [{ x: [-3, -0.12], y: 0 }], borderWidth: 0,
        backgroundColor: function(c) {
            var a = c.chart.chartArea;
            if (!a) return '#888';
            var g = c.chart.ctx.createLinearGradient(a.left, 0, a.right, 0);
            g.addColorStop(0, '#F1F1F1');
            g.addColorStop(0.42, '#BEDDE9');
            g.addColorStop(0.62, '#7E9CA8');
            g.addColorStop(0.82, '#3F4F56');
            g.addColorStop(1, '#111');
            return g;
        }
    }] },
    options: {
        plugins: { plotStyle: { frame: '#AAA' } },
        scales: {
            x: {
                type: 'linear', min: -3, max: -0.12, offset: false,
                afterBuildTicks: tickSet([-3, -2.5, -2, -1.5, -1, -0.5]),
                grid: { offset: false, drawOnChartArea: false, tickColor: '#333', tickLength: 5 },
                border: { display: false },
                ticks: { autoSkip: false, padding: 1, maxRotation: 0, color: '#333', font: { size: 9.5 },
                    callback: function(v) { return Number.isInteger(v) ? minus(v) : ''; } }
            },
            y: { type: 'linear', display: false, min: -0.5, max: 0.5, offset: false, grid: { offset: false } }
        }
    }
});

function dendroPath() {
    var out = [];
    colMergeL.forEach(function(x, i) {
        out.push({ x: x, y: colMergeLow[i] }, { x: x, y: colMergeTop[i] }, { x: colMergeR[i], y: colMergeTop[i] }, { x: colMergeR[i], y: colMergeHigh[i] }, { x: NaN, y: NaN });
    });
    return out;
}
mount({ l: 105, t: 485.3, r: 361, b: 548.3 }, { l: 1, t: 1, r: 1, b: 1 }, {
    type: 'scatter',
    data: { datasets: [lineSet(dendroPath(), '#444', 1)] },
    options: {
        scales: {
            x: { type: 'linear', display: false, min: 0, max: 128 },
            y: { type: 'linear', display: false, min: 0, max: 64 }
        }
    }
});
addText('HR', 165.6, 495, { size: 10, align: 'center' });
addText('LR', 320, 495, { size: 10, align: 'center' });

function cellBars(values, row, colorOf) {
    return { type: 'bar', grouped: false, barThickness: 2, borderWidth: 0,
        data: values.map(function(v, c) { return { x: c + 0.5, y: [row, row + 1] }; }),
        backgroundColor: values.map(colorOf) };
}
mount({ l: 105, t: 551, r: 361, b: 566 }, { l: 1, t: 1, r: 1, b: 1 }, {
    type: 'scatter',
    data: { datasets: [cellBars(sampleIsTumor, 0, function(v) { return v ? colTu : colAn; })] },
    options: {
        scales: {
            x: { type: 'linear', display: false, min: 0, max: 128, offset: false, grid: { offset: false } },
            y: { type: 'linear', display: false, min: 0, max: 1, offset: false, grid: { offset: false } }
        }
    }
});
var heatRows = [heatNucleatum, heatOdontolytica, heatOris, heatMorbillorum, heatMorbi, heatSimiae];
var heatChart = mount({ l: 105, t: 572.7, r: 361, b: 656 }, { l: 1, t: 1, r: 1, b: 1 }, {
    type: 'scatter',
    data: { datasets: heatRows.map(function(r, i) { return cellBars(r, i, function(v) { return heatPalette[v]; }); }) },
    options: {
        scales: {
            x: { type: 'linear', display: false, min: 0, max: 128, offset: false, grid: { offset: false } },
            y: { type: 'linear', display: false, reverse: true, min: 0, max: 6, offset: false, grid: { offset: false } }
        }
    }
});
heatChart.canvas.style.filter = 'blur(0.6px)';
function rowDendroPath() {
    var out = [];
    rowMergeA.forEach(function(a, i) {
        out.push({ x: rowMergeChildA[i], y: a }, { x: rowMergeD[i], y: a }, { x: rowMergeD[i], y: rowMergeB[i] }, { x: rowMergeChildB[i], y: rowMergeB[i] }, { x: NaN, y: NaN });
    });
    return out;
}
mount({ l: 49, t: 572.7, r: 101, b: 656 }, { l: 2, t: 1, r: 2, b: 1 }, {
    type: 'scatter',
    data: { datasets: [lineSet(rowDendroPath(), '#444', 1.3)] },
    options: {
        scales: {
            x: { type: 'linear', display: false, reverse: true, min: 0, max: 52 },
            y: { type: 'linear', display: false, reverse: true, min: 0, max: 6 }
        }
    }
});
heatRowNames.forEach(function(n, i) {
    addText(n, 366.7, 581 + 13.35 * i, { size: 13, italic: true, color: (i === 1 || i === 2) ? '#22CFCF' : '#D94A4A' });
});
addKey(373, 546.7, 14, 8.5, '#2CD0D0');
addText('AN', 396.7, 551, { size: 10 });
addKey(373, 557.3, 14, 8.5, '#D65555');
addText('Tumor', 396.7, 562, { size: 10 });

// ROC
mount({ l: 523.3, t: 483.3, r: 655, b: 615.7 }, { l: 51.3, t: 12, r: 12, b: 40 }, {
    type: 'scatter',
    data: { datasets: stack([
        lineSet(xy(ciSpec, ciSens), '#444', 0.8, { fill: 'shape', backgroundColor: '#F7E8CC' }),
        lineSet(xy([1, 0], [0, 1]), '#BDBDBD', 1),
        lineSet(xy(cyan1Spec, cyan1Sens), '#22CCCC', 1.4, { stepped: true }),
        lineSet(xy(cyan2Spec, cyan2Sens), '#22CCCC', 1.4, { stepped: true }),
        lineSet(xy(rocSpec, rocSens), '#000', 1.9),
        lineSet(xy(red1Spec, red1Sens), '#CC3333', 1.3),
        lineSet(xy(red2Spec, red2Sens), '#CC3333', 1.3),
        lineSet(xy(red3Spec, red3Sens), '#CC3333', 1.3),
        lineSet(xy(red4Spec, red4Sens), '#CC3333', 1.3),
        lineSet(xy(red5Spec, red5Sens), '#CC3333', 1.3)
    ]) },
    options: {
        plugins: { plotStyle: { frame: '#555' } },
        scales: {
            x: {
                type: 'linear', reverse: true, min: -0.0386, max: 1.041,
                afterBuildTicks: tickSet([1, 0.8, 0.6, 0.4, 0.2, 0]),
                title: { display: true, text: 'Specificity', padding: 0, color: '#333', font: { size: 12.2 } },
                grid: { drawOnChartArea: false, tickColor: '#333', tickLength: 5 },
                border: { display: false },
                ticks: { autoSkip: false, padding: 2, maxRotation: 0, color: '#333', font: { size: 11.5 },
                    callback: function(v) { return [1, 0.6, 0.2].indexOf(v) >= 0 ? v.toFixed(1) : ''; } }
            },
            y: {
                type: 'linear', min: -0.038, max: 1.041,
                afterBuildTicks: tickSet([0, 0.2, 0.4, 0.6, 0.8, 1]),
                title: { display: true, text: 'Sensitivity', padding: 0, color: '#333', font: { size: 12.2 } },
                grid: { drawOnChartArea: false, tickColor: '#333', tickLength: 5 },
                border: { display: false },
                ticks: { autoSkip: false, padding: 2, color: '#333', font: { size: 11.5 },
                    callback: function(v) { return v.toFixed(1); } }
            }
        }
    }
});
addText('0.858', 605, 585, { size: 14, color: '#555', align: 'center' });
addText('(0.803-0.914)', 605, 602, { size: 14, color: '#555', align: 'center' });
</script>
</body>
</html>
